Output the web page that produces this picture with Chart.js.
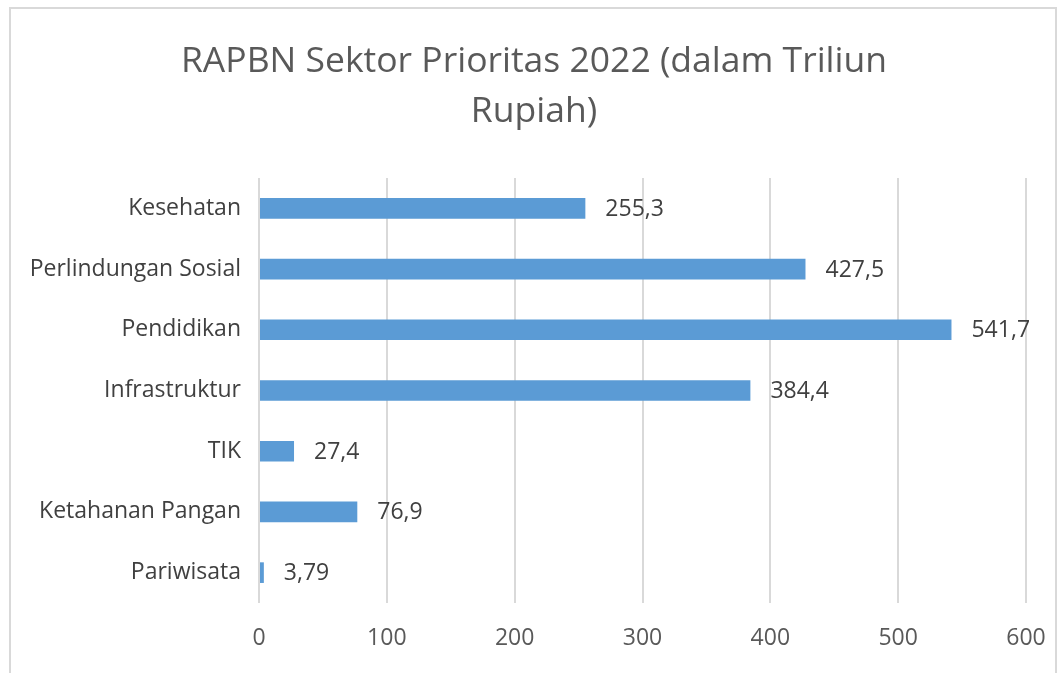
<!DOCTYPE html>
<html>
<head>
<meta charset="utf-8">
<script src="https://cdn.jsdelivr.net/npm/chart.js@4/dist/chart.umd.min.js"></script>
<style>
  html, body { margin: 0; padding: 0; background: #fff; }
  #frame { position: absolute; left: 9px; top: 7px; width: 1048px; height: 700px; border: 2px solid #d9d9d9; box-sizing: border-box; }
  #wrap { position: absolute; left: 0; top: 0; width: 1062px; height: 673px; }
</style>
</head>
<body>
<div id="frame"></div>
<div id="wrap"><canvas id="c" width="1062" height="673"></canvas></div>
<script>
const titleLines = ['RAPBN Sektor Prioritas 2022 (dalam Triliun', 'Rupiah)'];
const categories = ['Kesehatan', 'Perlindungan Sosial', 'Pendidikan', 'Infrastruktur', 'TIK', 'Ketahanan Pangan', 'Pariwisata'];
const values = [255.3, 427.5, 541.7, 384.4, 27.4, 76.9, 3.79];
const valueLabels = ['255,3', '427,5', '541,7', '384,4', '27,4', '76,9', '3,79'];
const xTicks = [0, 100, 200, 300, 400, 500, 600];

const FONT = '"Open Sans", Lato, sans-serif';

const titlePlugin = {
  id: 'centredTitle',
  afterDraw(chart) {
    const ctx = chart.ctx;
    ctx.save();
    ctx.font = '35.5px ' + FONT;
    ctx.fillStyle = '#595959';
    ctx.textAlign = 'center';
    ctx.textBaseline = 'middle';
    titleLines.forEach((t, i) => ctx.fillText(t, 534, 62 + i * 50));
    ctx.restore();
  }
};

const dataLabelPlugin = {
  id: 'dataLabels',
  afterDatasetsDraw(chart) {
    const ctx = chart.ctx;
    const meta = chart.getDatasetMeta(0);
    ctx.save();
    ctx.font = '23px ' + FONT;
    ctx.fillStyle = '#404040';
    ctx.textAlign = 'left';
    ctx.textBaseline = 'middle';
    meta.data.forEach((bar, i) => {
      ctx.fillText(valueLabels[i], bar.x + 20, bar.y + 1);
    });
    ctx.restore();
  }
};

new Chart(document.getElementById('c'), {
  type: 'bar',
  data: {
    labels: categories,
    datasets: [{
      data: values,
      backgroundColor: '#5B9BD5',
      borderWidth: 0,
      categoryPercentage: 1,
      barPercentage: 0.34
    }]
  },
  options: {
    indexAxis: 'y',
    responsive: false,
    animation: false,
    layout: { padding: { left: 0, right: 36, top: 178, bottom: 0 } },
    plugins: {
      legend: { display: false },
      tooltip: { enabled: false },
      title: { display: false }
    },
    scales: {
      x: {
        min: 0, max: 600,
        afterBuildTicks(axis) { axis.ticks = xTicks.map(v => ({ value: v })); },
        ticks: { color: '#595959', font: { family: FONT, size: 23 }, padding: 22 },
        grid: { color: '#d9d9d9', lineWidth: 2, drawTicks: false },
        border: { display: false },
        afterFit(axis) { axis.height = 70; axis.paddingLeft = 0; axis.paddingRight = 0; }
      },
      y: {
        ticks: { color: '#404040', font: { family: FONT, size: 23 }, padding: 18 },
        grid: { display: false, drawTicks: false },
        border: { display: false },
        afterFit(axis) { axis.width = 259; axis.paddingTop = 0; axis.paddingBottom = 0; }
      }
    }
  },
  plugins: [dataLabelPlugin, titlePlugin]
});
</script>
</body>
</html>
